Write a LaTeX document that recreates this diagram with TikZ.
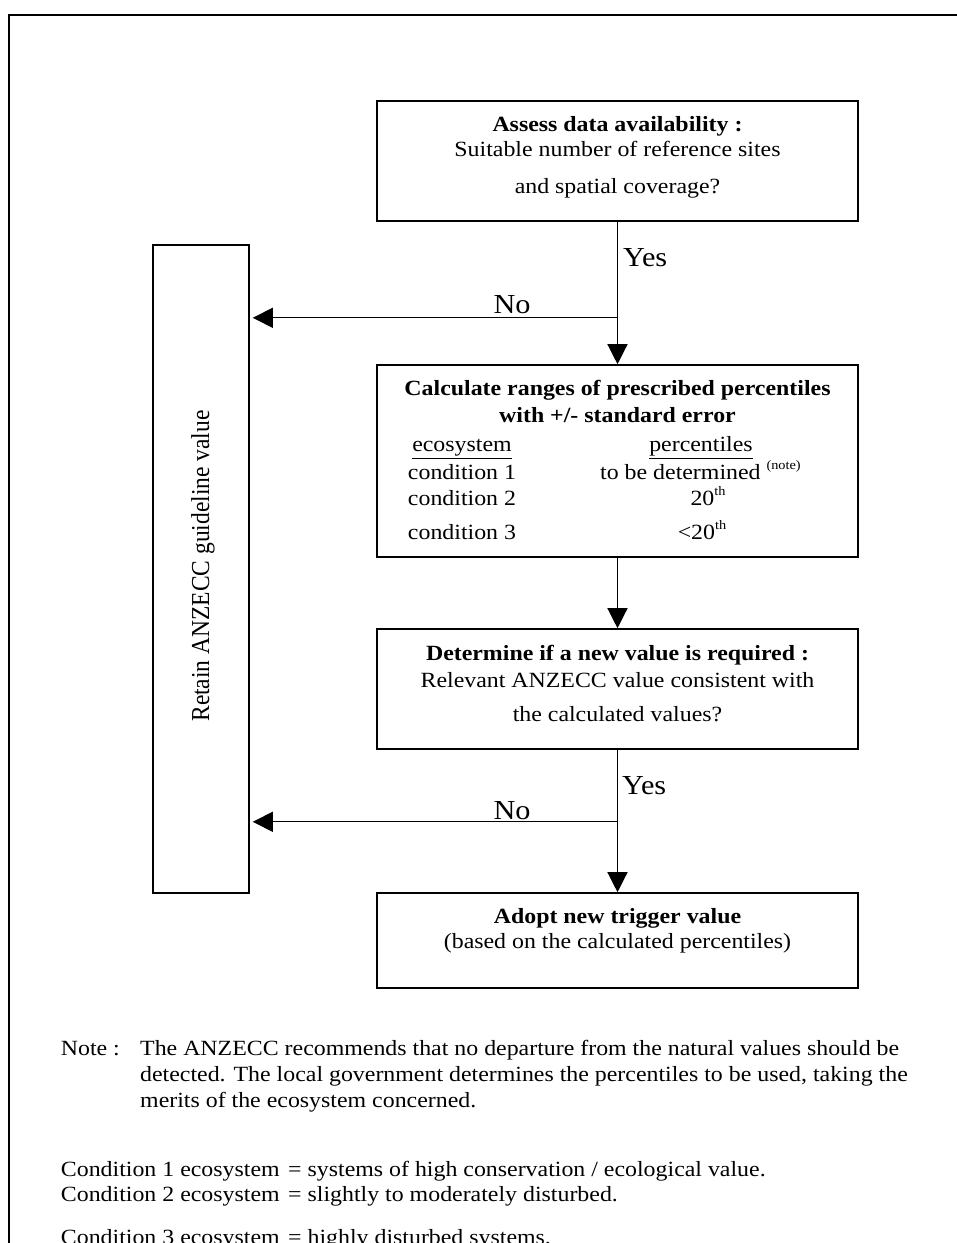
\documentclass[tikz,border=0pt]{standalone}
\usepackage{fontspec}
\setmainfont{Liberation Serif}[FakeStretch=1.1]
\newfontfamily\rotfont{Liberation Serif}
\usetikzlibrary{arrows.meta}
\newcommand\mysup[1]{\raisebox{0.42em}{\fontsize{13}{13}\selectfont #1}}
\begin{document}
\begin{tikzpicture}[x=1pt,y=-1pt,
  box/.style={draw,line width=1.6pt,inner sep=0pt},
  txt/.style={inner sep=0pt,anchor=base,font=\fontsize{21.7}{26}\selectfont},
  btxt/.style={txt,font=\fontsize{21.7}{26}\selectfont\bfseries},
  ntxt/.style={inner sep=0pt,anchor=base west,font=\fontsize{21.7}{26}\selectfont},
  yn/.style={inner sep=0pt,font=\fontsize{27.5}{30}\selectfont},
  conn/.style={line width=1.3pt},
  arr/.style={conn,-{Triangle[length=20pt,width=20pt]}},
]
\useasboundingbox (0,0) rectangle (957,1243);
\fill[white] (0,0) rectangle (957,1243);
% outer frame (left and top)
\draw[line width=2pt] (9,1250) -- (9,15) -- (960,15);

% boxes
\node[box,minimum width=481pt,minimum height=120pt] (b1) at (617.5,161) {};
\node[box,minimum width=481pt,minimum height=192pt] (b2) at (617.5,461) {};
\node[box,minimum width=481pt,minimum height=120pt] (b3) at (617.5,689) {};
\node[box,minimum width=481pt,minimum height=95pt] (b4) at (617.5,940.5) {};
\node[box,minimum width=96pt,minimum height=648pt] (ret) at (201,569) {};

% box 1 text
\node[btxt] (t11) at (617.5,131.7) {Assess data availability :};
\node[txt] (t12) at (617.5,156.7) {Suitable number of reference sites};
\node[txt] (t13) at (617.5,193.3) {and spatial coverage?};

% box 2 text
\node[btxt] (t21) at (617.5,395) {Calculate ranges of prescribed percentiles};
\node[btxt] (t22) at (617.5,422.7) {with +/- standard error};
\node[txt] (eh) at (462,451.7) {\underline{ecosystem}};
\node[txt] (ph) at (701,451.7) {\underline{percentiles}};
\node[txt] (e1) at (462,479) {condition 1};
\node[ntxt] (p1) at (600,479) {to be determined \mysup{(note)}};
\node[txt] (e2) at (462,505) {condition 2};
\node[txt] (p2) at (708,505) {20\mysup{th}};
\node[txt] (e3) at (462,539) {condition 3};
\node[txt] (p3) at (702,539) {<20\mysup{th}};

% box 3 text
\node[btxt] (t31) at (617.5,660) {Determine if a new value is required :};
\node[txt] (t32) at (617.5,687.3) {Relevant ANZECC value consistent with};
\node[txt] (t33) at (617.5,721.7) {the calculated values?};

% box 4 text
\node[btxt] (t41) at (617.5,923.3) {Adopt new trigger value};
\node[txt] (t42) at (617.5,948.3) {(based on the calculated percentiles)};

% retain box text
\node[inner sep=0pt,rotate=90,anchor=base,font=\rotfont\fontsize{23.5}{26}\selectfont] (rt) at (209,566) {\scalebox{1}[1.1]{Retain ANZECC guideline value}};

% connectors
\path (b1.south) ++(0,96) coordinate (j1);
\path (b3.south) ++(0,72) coordinate (j2);
\draw[arr] (b1.south) -- (b2.north);
\draw[arr,shorten >=3pt] (j1) -- (j1 -| ret.east);
\draw[arr] (b2.south) -- (b3.north);
\draw[arr] (b3.south) -- (b4.north);
\draw[arr,shorten >=3pt] (j2) -- (j2 -| ret.east);

% yes / no labels
\node[yn,anchor=base west] (y1) at (623,266.7) {Yes};
\node[yn,anchor=base] (n1) at (512,313.3) {No};
\node[yn,anchor=base west] (y2) at (622,794.3) {Yes};
\node[yn,anchor=base] (n2) at (512,819.3) {No};

% notes
\node[ntxt] (nl) at (60.7,1055) {Note :};
\node[ntxt] (na) at (140,1055) {The ANZECC recommends that no departure from the natural values should be};
\node[ntxt] (nb) at (140,1081) {detected. The local government determines the percentiles to be used, taking the};
\node[ntxt] (nc) at (140,1107) {merits of the ecosystem concerned.};
\node[ntxt] (c1) at (60.7,1176.5) {Condition 1 ecosystem};
\node[ntxt] (d1) at (288,1176.5) {= systems of high conservation / ecological value.};
\node[ntxt] (c2) at (60.7,1201) {Condition 2 ecosystem};
\node[ntxt] (d2) at (288,1201) {= slightly to moderately disturbed.};
\node[ntxt] (c3) at (60.7,1244) {Condition 3 ecosystem};
\node[ntxt] (d3) at (288,1244) {= highly disturbed systems.};
\end{tikzpicture}
\end{document}
